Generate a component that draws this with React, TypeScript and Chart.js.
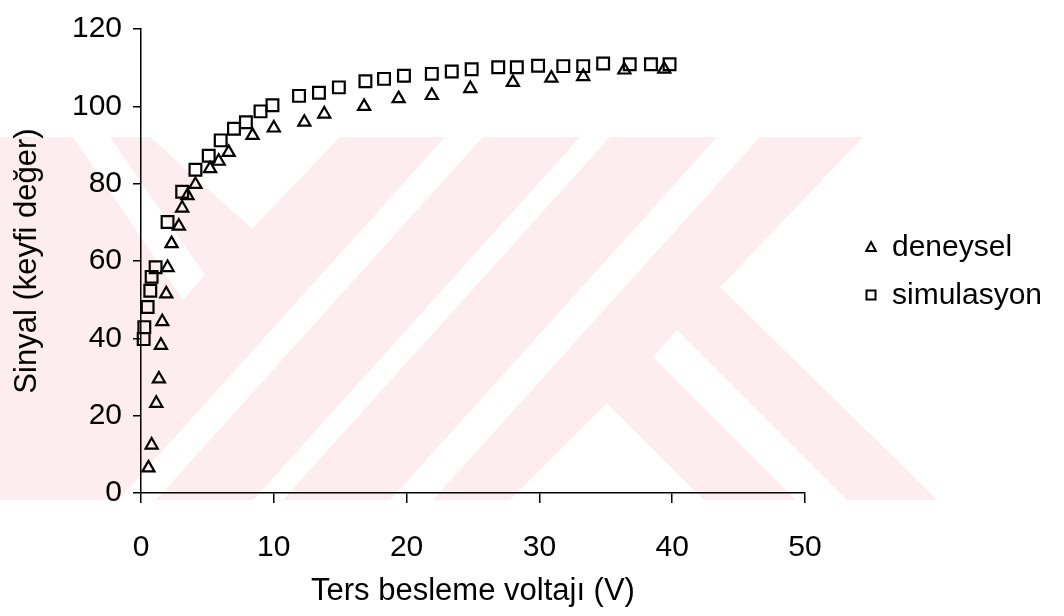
import { useEffect, useRef } from 'react';
import { Chart, registerables } from 'chart.js';

Chart.register(...registerables);

// Measured series: reverse bias voltage (V) against signal (arbitrary units)
const experimentalVoltage = [0.56, 0.8, 1.15, 1.35, 1.5, 1.6, 1.9, 2.0, 2.3, 2.85, 3.1, 3.5, 4.1, 5.2, 5.85, 6.6, 8.4, 10.0, 12.3, 13.8, 16.8, 19.4, 21.9, 24.8, 28.0, 30.9, 33.3, 36.4, 39.4];
const experimentalSignal = [6.5, 12.4, 23.2, 29.5, 38.2, 44.3, 51.5, 58.3, 64.5, 69.0, 73.7, 76.9, 79.8, 83.9, 85.8, 88.1, 92.5, 94.4, 95.9, 98.0, 100.0, 102.0, 102.8, 104.6, 106.2, 107.3, 107.7, 109.4, 109.6];

const simulationVoltage = [0.2, 0.25, 0.5, 0.7, 0.8, 1.1, 2, 3.1, 4.1, 5.1, 6, 7, 7.9, 9, 9.9, 11.9, 13.4, 14.9, 16.9, 18.3, 19.8, 21.9, 23.4, 24.9, 26.9, 28.3, 29.9, 31.8, 33.3, 34.8, 36.8, 38.4, 39.8];
const simulationSignal = [39.8, 42.9, 48.1, 52.3, 55.9, 58.4, 70.1, 77.9, 83.6, 87.2, 91.2, 94.2, 95.9, 98.7, 100.3, 102.7, 103.5, 104.9, 106.5, 107.1, 107.9, 108.4, 109.0, 109.6, 110.1, 110.1, 110.5, 110.4, 110.4, 111.1, 110.9, 110.9, 110.9];

const seriesLabels = ['deneysel', 'simulasyon'];
const xTicks = [0, 10, 20, 30, 40, 50];
const yTicks = [0, 20, 40, 60, 80, 100, 120];
const xTitle = 'Ters besleme voltajı (V)';
const yTitle = 'Sinyal (keyfi değer)';

const FONT = "'Liberation Sans', Arial, Helvetica, sans-serif";
const INK = '#000';
const PINK = 'rgb(253, 236, 240)';

// Faint page watermark behind the plot (canvas pixels)
const watermarkBase: number[][] = [[0, 137], [863, 137], [720, 287], [937, 500], [0, 500]];
const watermarkGaps: number[][][] = [
  [[73, 137], [110, 137], [205, 275], [183, 300]],
  [[150, 137], [340, 137], [252, 229]],
  [[445, 137], [483, 137], [156, 500], [118, 500]],
  [[580, 137], [610, 137], [283, 500], [253, 500]],
  [[717, 137], [760, 137], [433, 500], [390, 500]],
  [[677, 330], [847, 500], [796, 500], [653, 357]],
  [[607, 403], [704, 500], [510, 500]],
];

function fillPoly(ctx: CanvasRenderingContext2D, pts: number[][], color: string) {
  ctx.beginPath();
  pts.forEach(([x, y], i) => (i === 0 ? ctx.moveTo(x, y) : ctx.lineTo(x, y)));
  ctx.closePath();
  ctx.fillStyle = color;
  ctx.fill();
}

const backgroundPlugin = {
  id: 'pageBackground',
  beforeDraw(chart: Chart) {
    const ctx = chart.ctx;
    ctx.save();
    ctx.fillStyle = '#fff';
    ctx.fillRect(0, 0, chart.width, chart.height);
    fillPoly(ctx, watermarkBase, PINK);
    watermarkGaps.forEach((g) => fillPoly(ctx, g, '#fff'));
    ctx.restore();
  },
};

// Legend on the right: small marker followed by the series name
const sideLegendPlugin = {
  id: 'sideLegend',
  afterDraw(chart: Chart) {
    const ctx = chart.ctx;
    const area = chart.chartArea;
    const markerX = area.right + 66;
    const textX = area.right + 87;
    const rows = [area.top + 218, area.top + 266];
    ctx.save();
    ctx.strokeStyle = INK;
    ctx.lineWidth = 2;
    ctx.fillStyle = INK;
    ctx.font = `30px ${FONT}`;
    ctx.textBaseline = 'middle';
    chart.data.datasets.forEach((ds: any, i: number) => {
      const y = rows[i];
      ctx.beginPath();
      if (ds.pointStyle === 'triangle') {
        ctx.moveTo(markerX, y - 5);
        ctx.lineTo(markerX + 4.8, y + 4);
        ctx.lineTo(markerX - 4.8, y + 4);
        ctx.closePath();
      } else {
        ctx.rect(markerX - 4.5, y - 4.5, 9, 9);
      }
      ctx.stroke();
      ctx.fillText(ds.label, textX, y + 1);
    });
    ctx.restore();
  },
};

export default function App() {
  const canvasRef = useRef<HTMLCanvasElement | null>(null);

  useEffect(() => {
    if (!canvasRef.current) return;
    const toPoints = (xs: number[], ys: number[]) => xs.map((x, i) => ({ x, y: ys[i] }));

    const axisCommon = {
      border: { display: true, color: INK, width: 1.5 },
      ticks: { color: INK, font: { family: FONT, size: 30 } },
      title: { display: true, color: INK, font: { family: FONT, size: 31 } },
    };

    const chart = new Chart(canvasRef.current, {
      type: 'scatter',
      data: {
        datasets: [
          {
            label: seriesLabels[0],
            data: toPoints(experimentalVoltage, experimentalSignal),
            pointStyle: 'triangle',
            pointRadius: 7,
            pointBorderWidth: 2.2,
            borderColor: INK,
            backgroundColor: 'rgba(0,0,0,0)',
            clip: false,
          },
          {
            label: seriesLabels[1],
            data: toPoints(simulationVoltage, simulationSignal),
            pointStyle: 'rect',
            pointRadius: 8.3,
            pointBorderWidth: 2.2,
            borderColor: INK,
            backgroundColor: 'rgba(0,0,0,0)',
            clip: false,
          },
        ],
      },
      options: {
        animation: false,
        responsive: true,
        maintainAspectRatio: false,
        layout: { padding: { top: 20, right: 259, left: 0, bottom: 0 } },
        plugins: { legend: { display: false }, tooltip: { enabled: false } },
        scales: {
          x: {
            type: 'linear',
            min: xTicks[0],
            max: xTicks[xTicks.length - 1],
            afterFit: (scale: any) => { scale.height = 123; },
            afterBuildTicks: (scale: any) => { scale.ticks = xTicks.map((v) => ({ value: v })); },
            grid: { display: true, drawOnChartArea: false, drawTicks: true, tickLength: 10, color: INK, lineWidth: 1.5 },
            border: axisCommon.border,
            ticks: { ...axisCommon.ticks, padding: 27, maxRotation: 0 },
            title: { ...axisCommon.title, text: xTitle, padding: { top: 0, bottom: 6 } },
          },
          y: {
            type: 'linear',
            min: yTicks[0],
            max: yTicks[yTicks.length - 1],
            afterFit: (scale: any) => { scale.width = 141; },
            afterBuildTicks: (scale: any) => { scale.ticks = yTicks.map((v) => ({ value: v })); },
            grid: { display: true, drawOnChartArea: false, drawTicks: true, tickLength: 8, color: INK, lineWidth: 1.5 },
            border: axisCommon.border,
            ticks: { ...axisCommon.ticks, padding: 11 },
            title: { ...axisCommon.title, text: yTitle, padding: { top: 9, bottom: 0 } },
          },
        },
      },
      plugins: [backgroundPlugin, sideLegendPlugin],
    } as any);

    return () => chart.destroy();
  }, []);

  return (
    <div style={{ position: 'absolute', left: 0, top: 0, width: 1064, height: 616, background: '#fff' }}>
      <canvas ref={canvasRef} />
    </div>
  );
}
